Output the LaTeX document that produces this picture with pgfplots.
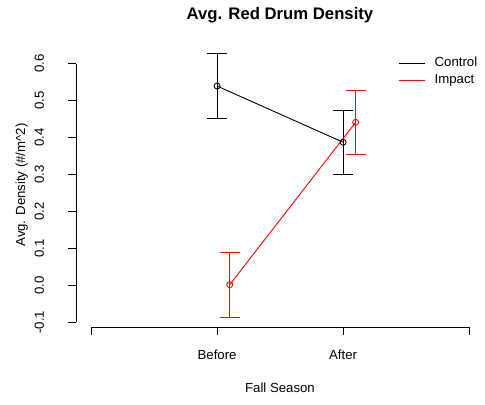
\documentclass[border=0pt]{standalone}
\usepackage{pgfplots}
\pgfplotsset{compat=1.18}
\usepackage{fontspec}
\setmainfont{Liberation Sans}
\definecolor{rred}{RGB}{255,0,0}

\newcommand{\lbl}{\fontsize{13.2bp}{15bp}\selectfont}

\begin{document}
\begin{tikzpicture}[x=1bp,y=1bp]
\useasboundingbox (0,0) rectangle (485,404);
\begin{axis}[
  at={(76bp,77bp)}, anchor=south west,
  scale only axis, width=408.2bp, height=283.8bp,
  xmin=-0.12, xmax=3.12, ymin=-0.113, ymax=0.655,
  axis x line*=bottom, axis y line*=left,
  axis line style={draw=none},
  xtick={0,1,2,3}, xticklabels={,Before,After,},
  ytick={-0.1,0,0.1,0.2,0.3,0.4,0.5,0.6},
  yticklabels={-0.1,0.0,0.1,0.2,0.3,0.4,0.5,0.6},
  tick align=outside, major tick length=8bp,
  tick style={black, line width=0.9bp},
  ticklabel style={font=\lbl, inner sep=0pt},
  xticklabel style={anchor=base, yshift=-24bp},
  yticklabel style={xshift=-24bp, rotate=90, anchor=base},
  clip=false,
  legend style={at={(rel axis cs:0.789,0.958)}, anchor=north west,
    draw=none, fill=none, inner sep=0pt, font=\lbl,
    nodes={inner sep=1.5bp, text height=10bp, text depth=3bp},
    row sep=0.7bp, column sep=8bp},
  legend cell align=left,
  legend image code/.code={\draw[#1] (0bp,0bp) -- (26bp,0bp);},
  ebar/.style={line width=1bp, mark=-, mark size=10bp,
    mark options={line width=1bp}, forget plot},
]
% axis lines spanning the tick range only
\draw[black, line width=0.9bp] (axis cs:0,-0.113) -- (axis cs:3,-0.113);
\draw[black, line width=0.9bp] (axis cs:-0.12,-0.1) -- (axis cs:-0.12,0.6);

% error bars: mean -/+ half-width, one segment per season
\addplot[black, ebar] coordinates {(1.0,0.452) (1.0,0.626)};
\addplot[black, ebar] coordinates {(2.0,0.300) (2.0,0.474)};
\addplot[rred, ebar] coordinates {(1.1,-0.086) (1.1,0.089)};
\addplot[rred, ebar] coordinates {(2.1,0.354) (2.1,0.528)};

% season means
\addplot[black, line width=0.9bp, mark=o, mark size=3bp,
  mark options={line width=0.9bp}]
  coordinates {(1.0,0.539) (2.0,0.387)};
\addlegendentry{Control}
\addplot[rred, line width=0.9bp, mark=o, mark size=3bp,
  mark options={line width=0.9bp}]
  coordinates {(1.1,0.0015) (2.1,0.441)};
\addlegendentry{Impact}
\end{axis}

\node[anchor=base, inner sep=0pt, font=\fontsize{16.7bp}{19bp}\selectfont\bfseries]
  at (280,385) {Avg. Red Drum Density};
\node[anchor=base, inner sep=0pt, font=\lbl] at (280,12) {Fall Season};
\node[anchor=base, rotate=90, inner sep=0pt, font=\lbl]
  at (25,219) {Avg. Density (\#/m\textasciicircum 2)};
\end{tikzpicture}
\end{document}
